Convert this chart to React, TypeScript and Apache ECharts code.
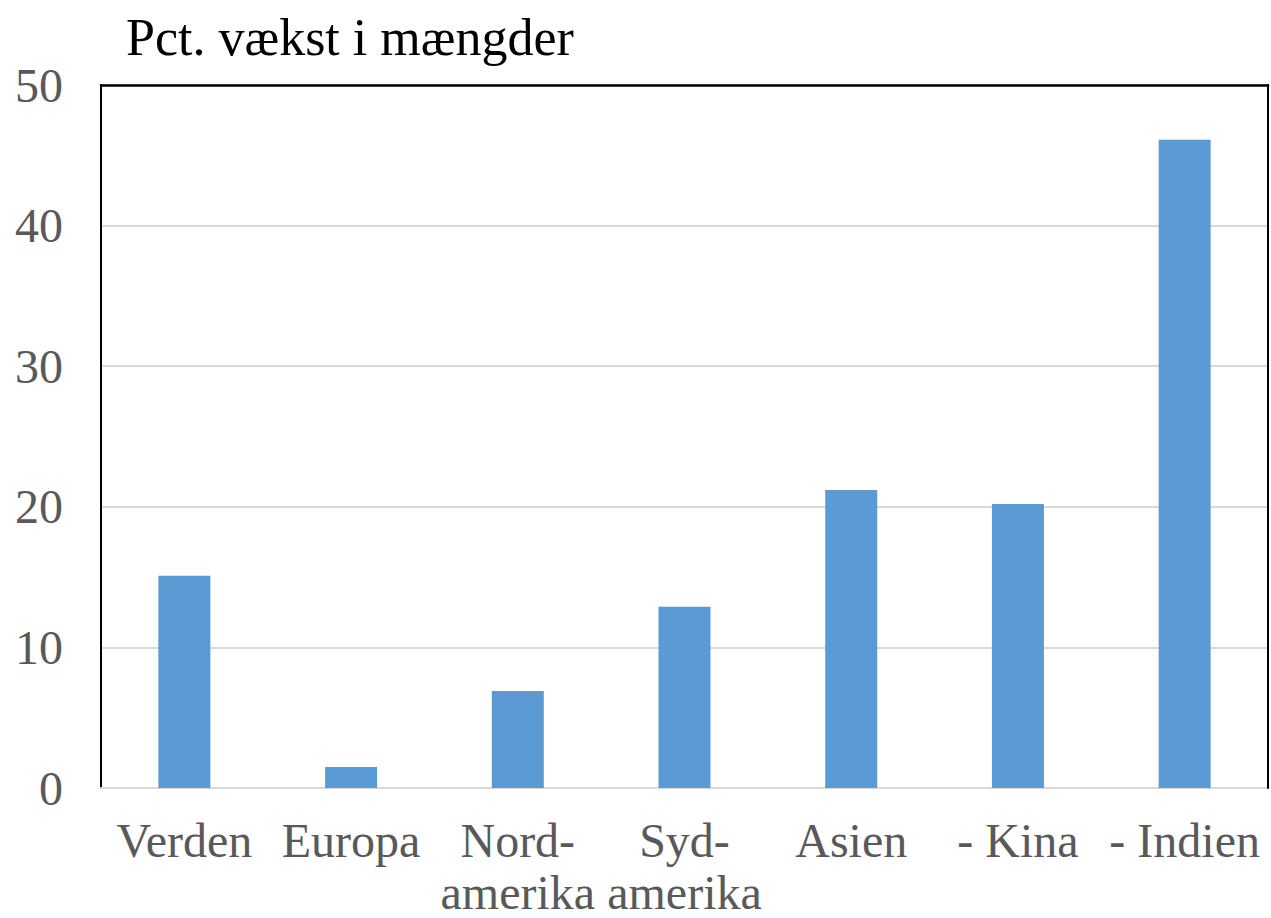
import React, { useEffect, useRef } from "react";
import * as echarts from "echarts";

const categories = ["Verden", "Europa", "Nord-\namerika", "Syd-\namerika", "Asien", "- Kina", "- Indien"];
const values = [15.1, 1.5, 6.9, 12.9, 21.2, 20.2, 46.1];
const titleText = "Pct. vækst i mængder";
const yMin = 0;
const yMax = 50;
const yStep = 10;

export default function App() {
  const ref = useRef<HTMLDivElement>(null);
  useEffect(() => {
    if (!ref.current) return;
    const chart = echarts.init(ref.current, undefined, { renderer: "svg" });
    const font = "'Liberation Serif', 'Times New Roman', serif";
    chart.setOption({
      animation: false,
      backgroundColor: "#ffffff",
      title: {
        text: titleText,
        left: 121,
        top: 6,
        textStyle: { fontFamily: font, fontSize: 52, fontWeight: "normal", color: "#000000" },
      },
      grid: {
        left: 101,
        right: 3,
        top: 85,
        bottom: 129,
        show: false,
      },
      xAxis: [
        {
          type: "category",
          data: categories,
          axisTick: { show: false },
          axisLine: { show: true, lineStyle: { color: "#d9d9d9", width: 2 } },
          axisLabel: {
            fontFamily: font,
            fontSize: 48,
            color: "#595959",
            margin: 26,
            lineHeight: 52,
            interval: 0,
            align: "center",
          },
        },
        {
          type: "category",
          data: categories,
          position: "top",
          axisTick: { show: false },
          axisLabel: { show: false },
          axisLine: { show: true, onZero: false, lineStyle: { color: "#000000", width: 2.5 } },
          z: 5,
        },
      ],
      yAxis: [
        {
          type: "value",
          min: yMin,
          max: yMax,
          interval: yStep,
          axisLine: { show: true, onZero: false, lineStyle: { color: "#000000", width: 2 } },
          axisTick: { show: false },
          splitLine: { show: true, lineStyle: { color: "#d9d9d9", width: 2 } },
          axisLabel: { fontFamily: font, fontSize: 48, color: "#595959", margin: 38 },
        },
        {
          type: "value",
          min: yMin,
          max: yMax,
          interval: yStep,
          position: "right",
          axisLine: { show: true, onZero: false, lineStyle: { color: "#000000", width: 2 } },
          axisTick: { show: false },
          splitLine: { show: false },
          axisLabel: { show: false },
          z: 5,
        },
      ],
      series: [
        {
          type: "bar",
          data: values,
          barWidth: 52,
          xAxisIndex: 0,
          yAxisIndex: 0,
          itemStyle: { color: "#5B9BD5" },
        },
      ],
    });
    return () => chart.dispose();
  }, []);
  return <div ref={ref} style={{ position: "fixed", left: 0, top: 0, width: 1271, height: 918 }} />;
}
